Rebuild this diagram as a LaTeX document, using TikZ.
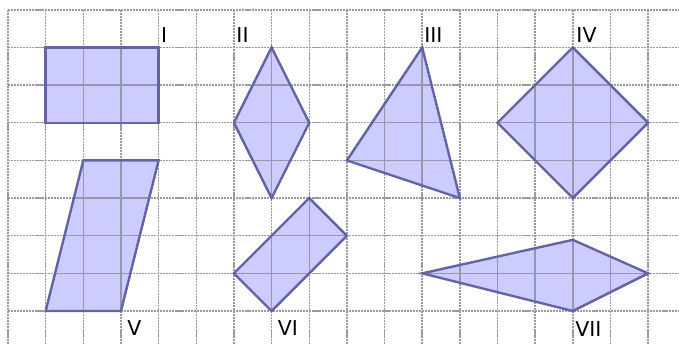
\documentclass[tikz,border=0pt]{standalone}
\usepackage{fontspec}
\setmainfont{DejaVu Sans}
\definecolor{shapefill}{RGB}{204,204,255}
\definecolor{shapeline}{RGB}{100,100,165}
\definecolor{gridgray}{RGB}{155,155,155}
\definecolor{gridin}{RGB}{150,150,175}
\tikzset{
  gridline/.style={gridgray, line width=1.1pt, dash pattern=on 1.6pt off 0.7pt},
  gridinner/.style={gridin, line width=1.1pt},
  figure/.style={shapeline, line width=1.8pt, line join=miter},
  lbl/.style={anchor=base west, inner sep=0pt, font=\fontsize{15.5}{18}\selectfont}
}
\newcommand{\figshape}[1]{%
  \fill[shapefill] #1;
  \begin{scope}
    \clip #1;
    \foreach \i in {0,...,17} \draw[gridinner] (\i,-0.9) -- (\i,8);
    \foreach \j in {0,...,8} \draw[gridinner] (0,\j) -- (17.9,\j);
  \end{scope}
  \draw[figure] #1;
}
\begin{document}
\begin{tikzpicture}[x=1cm,y=1cm]
\useasboundingbox (-0.2125,-0.876) rectangle (17.82,8.26);
\fill[white] (-0.2125,-0.876) rectangle (17.82,8.26);
% grid
\foreach \i in {0,...,17} \draw[gridline] (\i,8) -- (\i,-0.9);
\foreach \j in {0,...,8} \draw[gridline] (0,\j) -- (17.9,\j);
% shapes
\figshape{(1,5) -- (4,5) -- (4,7) -- (1,7) -- cycle}
\figshape{(7,7) -- (8,5) -- (7,3) -- (6,5) -- cycle}
\figshape{(11,7) -- (12,3) -- (9,4) -- cycle}
\figshape{(15,7) -- (17,5) -- (15,3) -- (13,5) -- cycle}
\figshape{(2,4) -- (4,4) -- (3,0) -- (1,0) -- cycle}
\figshape{(8,3) -- (9,2) -- (7,0) -- (6,1) -- cycle}
\figshape{(11,1) -- (15,1.89) -- (17,1) -- (15,0) -- cycle}
% labels
\node[lbl] (l1) at (4.06,7.14) {I};
\node[lbl] (l2) at (6.06,7.14) {II};
\node[lbl] (l3) at (11.05,7.14) {III};
\node[lbl] (l4) at (15.09,7.14) {IV};
\node[lbl] (l5) at (3.16,-0.64) {V};
\node[lbl] (l6) at (7.16,-0.64) {VI};
\node[lbl] (l7) at (15.06,-0.68) {VII};
\end{tikzpicture}
\end{document}
